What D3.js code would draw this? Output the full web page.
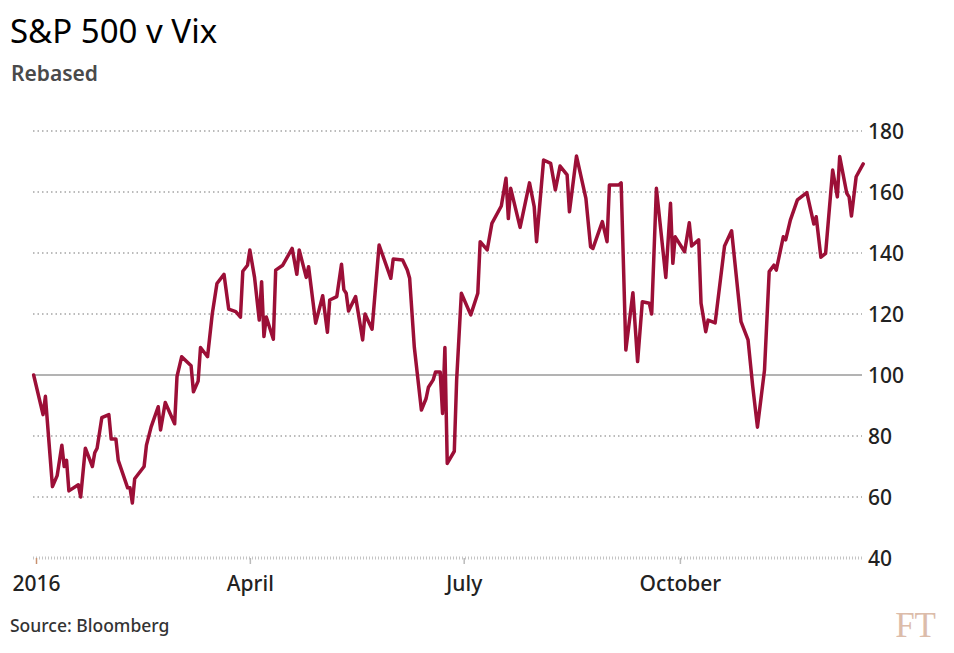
<!DOCTYPE html>
<html>
  <head>
    <meta charset="utf-8">
    <title>S&amp;P 500 v Vix</title>
    <style media="screen">
      body{margin:0; background-color:#fff;}
      svg text{font-family:"Noto Sans", sans-serif;}
    </style>
  </head>
  <body>
<svg width="954" height="653"></svg>
<script src="https://d3js.org/d3.v7.min.js"></script>
<script>

// data (rebased, 100 = start of 2016)
var dates = [
  "2015-12-31","2016-01-04","2016-01-05","2016-01-08","2016-01-10","2016-01-12","2016-01-13","2016-01-14",
  "2016-01-15","2016-01-19","2016-01-20","2016-01-22","2016-01-25","2016-01-26","2016-01-27","2016-01-29",
  "2016-02-01","2016-02-02","2016-02-04","2016-02-05","2016-02-09","2016-02-10","2016-02-11","2016-02-12",
  "2016-02-16","2016-02-17","2016-02-19","2016-02-22","2016-02-23","2016-02-25","2016-02-29","2016-03-01",
  "2016-03-03","2016-03-07","2016-03-08","2016-03-10","2016-03-11","2016-03-14","2016-03-16","2016-03-18",
  "2016-03-21","2016-03-23","2016-03-26","2016-03-28","2016-03-29","2016-03-31","2016-04-01","2016-04-03",
  "2016-04-05","2016-04-06","2016-04-07","2016-04-08","2016-04-11","2016-04-12","2016-04-15","2016-04-19",
  "2016-04-21","2016-04-22","2016-04-25","2016-04-26","2016-04-29","2016-05-02","2016-05-04","2016-05-05",
  "2016-05-08","2016-05-10","2016-05-11","2016-05-12","2016-05-13","2016-05-16","2016-05-19","2016-05-20",
  "2016-05-23","2016-05-26","2016-05-31","2016-06-01","2016-06-05","2016-06-07","2016-06-08","2016-06-10",
  "2016-06-13","2016-06-15","2016-06-16","2016-06-18","2016-06-19","2016-06-21","2016-06-22","2016-06-23",
  "2016-06-24","2016-06-27","2016-06-28","2016-06-30","2016-07-04","2016-07-07","2016-07-08","2016-07-11",
  "2016-07-13","2016-07-17","2016-07-19","2016-07-20","2016-07-21","2016-07-25","2016-07-29","2016-07-31",
  "2016-08-01","2016-08-04","2016-08-07","2016-08-09","2016-08-11","2016-08-14","2016-08-15","2016-08-18",
  "2016-08-22","2016-08-24","2016-08-25","2016-08-29","2016-08-31","2016-09-01","2016-09-05","2016-09-06",
  "2016-09-08","2016-09-11","2016-09-13","2016-09-15","2016-09-18","2016-09-19","2016-09-21","2016-09-25",
  "2016-09-27","2016-09-28","2016-09-29","2016-10-03","2016-10-05","2016-10-06","2016-10-09","2016-10-10",
  "2016-10-12","2016-10-13","2016-10-16","2016-10-20","2016-10-23","2016-10-27","2016-10-30","2016-11-01",
  "2016-11-03","2016-11-06","2016-11-08","2016-11-10","2016-11-11","2016-11-14","2016-11-15","2016-11-17",
  "2016-11-20","2016-11-24","2016-11-27","2016-11-28","2016-11-30","2016-12-02","2016-12-05","2016-12-07",
  "2016-12-08","2016-12-11","2016-12-12","2016-12-13","2016-12-15","2016-12-18"
];

var values = [
  100, 87, 93, 63.4, 67, 77, 70, 72,
  62, 64, 60, 76, 70, 74.5, 76, 86,
  87, 79, 79, 72, 63, 63, 58, 66,
  70, 77, 83, 89.6, 82, 91, 84, 99.5,
  106, 103, 94.5, 98, 109, 106, 120, 130,
  133, 121.6, 120.8, 119, 134, 136, 141, 132,
  118, 130.6, 112.6, 119, 111.7, 134.4, 136, 141.5,
  133, 141, 132, 135.5, 117, 126, 114, 124.6,
  125.7, 136.3, 128, 126.8, 121, 125.7, 111.5, 120,
  115, 142.6, 131.7, 138, 137.7, 134.4, 131.7, 109,
  88.5, 92.3, 96, 98.4, 101, 101, 87.4, 109,
  71, 75, 98.4, 126.8, 119.7, 126.8, 143.7, 141,
  149.7, 155.4, 164.5, 151.3, 161.2, 148.4, 163, 155.2,
  143.7, 170.5, 169.4, 160.7, 168.5, 165.6, 153.5, 171.8,
  157.9, 142, 141.5, 150.3, 143.7, 162.3, 162.3, 163,
  108.2, 127, 104.4, 124, 123.5, 120, 161.2, 132,
  156.3, 136.6, 145.3, 140.4, 149.9, 142.3, 144.3, 123.5,
  114.2, 118, 117.1, 142.3, 147.3, 117.5, 111.5, 96.2,
  82.9, 101.6, 133.9, 136, 134.4, 145.3, 144.3, 150.8,
  157.4, 159.8, 149.5, 151.9, 138.6, 139.9, 167.2, 158.4,
  171.6, 159.6, 158.4, 152.1, 165, 169.2
];

var yTicks = [40, 60, 80, 100, 120, 140, 160, 180];
var xTickDates = ["2016-01-01", "2016-04-01", "2016-07-01", "2016-10-01"];
var xTickLabels = ["2016", "April", "July", "October"];

var parseDate = d3.timeParse("%Y-%m-%d");

var data = dates.map(function(d, i) { return {date: parseDate(d), value: values[i]}; });

var svg = d3.select("svg"),
    gridLeft = 33,
    gridRight = 862;

var x = d3.scaleTime()
    .domain([parseDate("2016-01-01"), parseDate("2016-12-31")])
    .range([36, 893.75]);

var y = d3.scaleLinear()
    .domain([40, 180])
    .range([558, 131]);

// titles
svg.append("text")
    .attr("x", 10).attr("y", 43)
    .attr("font-size", 33)
    .attr("fill", "#000")
    .text("S&P 500 v Vix");

svg.append("text")
    .attr("x", 11).attr("y", 81)
    .attr("font-size", 21)
    .attr("font-weight", 600)
    .attr("fill", "#4a4a4a")
    .text("Rebased");

// horizontal grid
var grid = svg.append("g");

grid.selectAll("line")
    .data(yTicks.filter(function(t) { return t !== 100 && t !== 40; }))
  .enter().append("line")
    .attr("x1", gridLeft).attr("x2", gridRight)
    .attr("y1", function(d) { return y(d); })
    .attr("y2", function(d) { return y(d); })
    .attr("stroke", "#bbb")
    .attr("stroke-width", 2)
    .attr("stroke-dasharray", "1.5,3");

grid.append("line")
    .attr("x1", gridLeft).attr("x2", gridRight)
    .attr("y1", y(100)).attr("y2", y(100))
    .attr("stroke", "#b3b3b3")
    .attr("stroke-width", 2);

// y labels on the right
svg.append("g")
    .selectAll("text")
    .data(yTicks)
  .enter().append("text")
    .attr("x", 868)
    .attr("y", function(d) { return y(d); })
    .attr("dy", "0.36em")
    .attr("font-size", 21)
    .attr("font-weight", 500)
    .attr("fill", "#222")
    .text(function(d) { return d; });

// x axis
var xAxis = svg.append("g")
    .attr("transform", "translate(0," + y(40) + ")")
    .call(d3.axisBottom(x)
      .tickValues(xTickDates.map(parseDate))
      .tickSize(6)
      .tickPadding(12)
      .tickFormat(function(d, i) { return xTickLabels[i]; }));

xAxis.select(".domain").remove();
xAxis.selectAll(".tick line").attr("stroke", "#bbb").attr("stroke-width", 1.5);
xAxis.select(".tick line").attr("stroke", "#c8906f");
xAxis.selectAll(".tick text")
    .attr("font-family", "Noto Sans, sans-serif")
    .attr("font-size", 21)
    .attr("font-weight", 500)
    .attr("fill", "#222");

xAxis.insert("line", ":first-child")
    .attr("x1", gridLeft).attr("x2", gridRight)
    .attr("y1", 0).attr("y2", 0)
    .attr("stroke", "#c4c4c4")
    .attr("stroke-width", 3)
    .attr("stroke-dasharray", "1,2");

// the line
var line = d3.line()
    .x(function(d) { return x(d.date); })
    .y(function(d) { return y(d.value); });

svg.append("path")
    .datum(data)
    .attr("fill", "none")
    .attr("stroke", "#9c0f37")
    .attr("stroke-linejoin", "round")
    .attr("stroke-linecap", "round")
    .attr("stroke-width", 3.5)
    .attr("d", line);

// footer
svg.append("text")
    .attr("x", 10).attr("y", 632)
    .attr("font-size", 17.5)
    .attr("font-weight", 500)
    .attr("fill", "#333")
    .text("Source: Bloomberg");

svg.append("text")
    .attr("x", 936).attr("y", 637)
    .attr("text-anchor", "end")
    .style("font-family", "Liberation Serif, serif")
    .attr("font-size", 35)
    .attr("fill", "#dcbcaa")
    .text("FT");

</script>
  </body>
</html>
